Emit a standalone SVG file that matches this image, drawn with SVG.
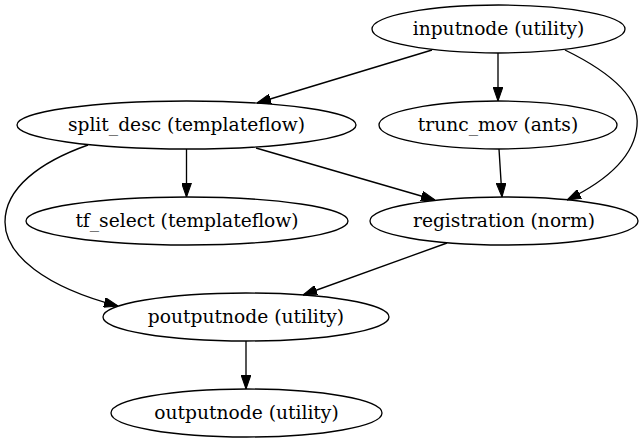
<svg xmlns="http://www.w3.org/2000/svg" width="643" height="443" viewBox="0 0 643 443">
<style>
.node ellipse{fill:none;stroke:#000;stroke-width:1.33}
.node text{font-family:"DejaVu Serif","Liberation Serif",serif;font-size:18.67px;text-anchor:middle;fill:#000}
.edges path{fill:none;stroke:#000;stroke-width:1.33;marker-end:url(#arr)}
</style>
<defs>
<marker id="arr" markerUnits="userSpaceOnUse" markerWidth="14" markerHeight="10" viewBox="0 0 13.33 9.33" refX="13.33" refY="4.67" orient="auto">
<path d="M0,0 L13.33,4.67 L0,9.33 z" fill="#000" stroke="#000" stroke-width="1"/>
</marker>
</defs>
<rect width="643" height="443" fill="#fff"/>
<g class="edges" id="edges">
<path d="M432,50 L257,103"/>
<path d="M498,53 L498,101"/>
<path d="M565,50 C610,72 640,98 637,126 C634,160 600,184 567,200"/>
<path d="M499,149 L502,197"/>
<path d="M186.5,149 L186.5,197"/>
<path d="M256,148 L435,200"/>
<path d="M88,145 C40,162 5,188 5,222 C5,255 45,287 118,306"/>
<path d="M447,243 L303,295"/>
<path d="M246,341 L246,389"/>
</g>
<g class="node" id="inputnode"><ellipse cx="498.5" cy="29" rx="126.5" ry="24"/><text x="498.5" y="35">inputnode (utility)</text></g>
<g class="node" id="split_desc"><ellipse cx="186.5" cy="125" rx="169.5" ry="24"/><text x="186.5" y="131">split_desc (templateflow)</text></g>
<g class="node" id="trunc_mov"><ellipse cx="498" cy="125" rx="119" ry="24"/><text x="498" y="131">trunc_mov (ants)</text></g>
<g class="node" id="tf_select"><ellipse cx="187" cy="221" rx="161" ry="24"/><text x="187" y="227">tf_select (templateflow)</text></g>
<g class="node" id="registration"><ellipse cx="504" cy="221" rx="134" ry="24"/><text x="504" y="227">registration (norm)</text></g>
<g class="node" id="poutputnode"><ellipse cx="246" cy="317" rx="143" ry="24"/><text x="246" y="323">poutputnode (utility)</text></g>
<g class="node" id="outputnode"><ellipse cx="246.5" cy="413" rx="135.5" ry="24"/><text x="246.5" y="419">outputnode (utility)</text></g>
</svg>
